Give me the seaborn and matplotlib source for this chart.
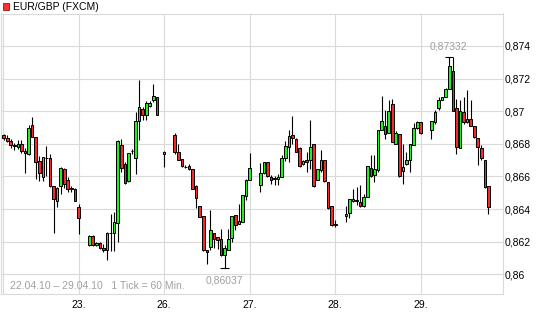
import matplotlib
matplotlib.use("Agg")
import matplotlib.pyplot as plt
from matplotlib.patches import Rectangle
import seaborn as sns
import pandas as pd
import numpy as np

# ---- data (hourly candles, x = hours since 22.04.10 00:00) ----
hours = [3, 4, 5, 6, 7, 8, 9, 10, 11, 12, 13, 14, 15, 16, 17, 18, 19, 20, 21, 22, 23, 24,
         27, 28, 29, 30, 31, 32, 33, 34, 35, 36, 37, 38, 39, 40, 41, 42, 43, 44, 45, 46,
         48,
         51, 52, 53, 54, 55, 56, 57, 58, 59, 60, 61, 62, 63, 64, 65, 66, 67, 68, 69, 70, 71, 72,
         75, 76, 77, 78, 79, 80, 81, 82, 83, 84, 85, 86, 87, 88, 89, 90, 91, 92, 93, 94, 95, 96,
         99, 100, 101, 102, 103, 104, 105, 106, 107, 108, 109, 110, 111, 112, 113, 114, 115, 116,
         117, 118, 119, 120,
         123, 124, 125, 126, 127, 128, 129, 130, 131, 132, 133, 134, 135, 136, 137, 138, 139]

opens = [.86851, .86837, .86818, .86792, .86782, .86798, .86757, .86739, .86915, .86841, .86697,
         .86599, .86712, .86714, .86542, .86452, .86544, .86646, .86579, .86529, .86523, .86410,
         .86182, .86233, .86182, .86192, .86163, .86151, .86251, .86251, .86313, .86794, .86678,
         .86569, .86755, .86714, .86938, .87016, .86979, .87032, .87071, .87087,
         .86739,
         .86851, .86749, .86708, .86657, .86663, .86647, .86539, .86420, .86355, .86151, .86167,
         .86255, .86229, .86216, .86116, .86151, .86224, .86365, .86310, .86320, .86478, .86575,
         .86545, .86622, .86688, .86596, .86590, .86586, .86596, .86714, .86780, .86857, .86827,
         .86773, .86678, .86702, .86698, .86796, .86575, .86637, .86698, .86565, .86421, .86304,
         .86355, .86374, .86452, .86454, .86441, .86421, .86472, .86653, .86610, .86640, .86887,
         .86907, .86868, .87043, .86801, .86862, .86632, .86677, .86698, .86790, .86899, .86934,
         .86887, .86934, .87022, .87071, .87088, .87139, .87246, .87020, .86774, .86996, .86934,
         .86954, .86907, .86837, .86774, .86698, .86544]

highs = [.86862, .86857, .86831, .86806, .86825, .86821, .86773, .86913, .86964, .86843, .86728,
         .86718, .86784, .86739, .86542, .86533, .86657, .86650, .86595, .86543, .86529, .86428,
         .86243, .86243, .86196, .86196, .86186, .86257, .86370, .86380, .86821, .86832, .86688,
         .86745, .86770, .86995, .87190, .87026, .87061, .87061, .87169, .87087,
         .86753,
         .86867, .86800, .86708, .86667, .86678, .86647, .86545, .86420, .86355, .86151, .86396,
         .86255, .86229, .86278, .86177, .86280, .86357, .86365, .86433, .86484, .86586, .86745,
         .86684, .86688, .86688, .86606, .86600, .86616, .86729, .86820, .86886, .86973, .86835,
         .86780, .86698, .86749, .86943, .86800, .86647, .86759, .86698, .86565, .86421, .86332,
         .86417, .86462, .86523, .86534, .86550, .86493, .86661, .86733, .86733, .86887, .87092,
         .87006, .87067, .87074, .86879, .86862, .86801, .86749, .86796, .86930, .86942, .86934,
         .86942, .87006, .87084, .87088, .87143, .87332, .87332, .87074, .87067, .87088, .87129,
         .87067, .86907, .86837, .86790, .86698, .86544]

lows = [.86825, .86814, .86773, .86763, .86767, .86743, .86620, .86732, .86839, .86587, .86570,
        .86570, .86605, .86538, .86253, .86410, .86493, .86532, .86503, .86503, .86447, .86245,
        .86171, .86171, .86171, .86155, .86135, .86088, .86145, .86145, .86196, .86626, .86555,
        .86565, .86739, .86616, .86821, .86944, .86944, .87026, .87057, .86979,
        .86657,
        .86739, .86698, .86657, .86651, .86637, .86520, .86408, .86351, .86141, .86065, .86147,
        .86161, .86157, .86112, .86037, .86147, .86198, .86269, .86306, .86320, .86453, .86575,
        .86504, .86616, .86596, .86555, .86549, .86545, .86596, .86692, .86688, .86800, .86749,
        .86657, .86667, .86627, .86647, .86535, .86575, .86627, .86565, .86402, .86298, .86287,
        .86318, .86345, .86441, .86427, .86415, .86410, .86472, .86595, .86564, .86626, .86883,
        .86831, .86866, .86811, .86801, .86595, .86554, .86671, .86626, .86790, .86893, .86860,
        .86827, .86924, .87006, .87067, .87084, .87139, .87000, .86739, .86774, .86924, .86928,
        .86907, .86837, .86667, .86702, .86530, .86369]

closes = [.86835, .86818, .86794, .86784, .86800, .86755, .86743, .86896, .86843, .86687, .86620,
          .86718, .86716, .86540, .86462, .86527, .86653, .86554, .86523, .86523, .86452, .86345,
          .86233, .86182, .86194, .86161, .86149, .86251, .86253, .86319, .86815, .86653, .86559,
          .86745, .86757, .86938, .87026, .86979, .87052, .87052, .87091, .86979,
          .86751,
          .86749, .86702, .86663, .86655, .86643, .86524, .86469, .86351, .86147, .86137, .86269,
          .86218, .86212, .86120, .86161, .86214, .86357, .86304, .86324, .86484, .86575, .86651,
          .86622, .86688, .86602, .86575, .86584, .86596, .86714, .86786, .86845, .86837, .86749,
          .86663, .86692, .86688, .86780, .86539, .86647, .86698, .86569, .86406, .86304, .86308,
          .86369, .86462, .86460, .86450, .86421, .86476, .86661, .86605, .86645, .86887, .86938,
          .86862, .87002, .86811, .86866, .86605, .86657, .86698, .86796, .86899, .86934, .86866,
          .86942, .86996, .87071, .87084, .87133, .87277, .87000, .86780, .87000, .86934, .86950,
          .86909, .86842, .86780, .86712, .86534, .86410]

day_ticks = [24, 48, 72, 96, 120]
day_labels = ["23.", "26.", "27.", "28.", "29."]
price_ticks = [0.860, 0.862, 0.864, 0.866, 0.868, 0.870, 0.872, 0.874]
price_labels = ["0,86", "0,862", "0,864", "0,866", "0,868", "0,87", "0,872", "0,874"]
title_text = "EUR/GBP (FXCM)"
footer_text = "22.04.10 \u2013 29.04.10   1 Tick = 60 Min."

df = pd.DataFrame({"t": hours, "open": opens, "high": highs, "low": lows, "close": closes})
df["up"] = df["close"] >= df["open"]

# ---- style ----
sns.set_theme(style="white")
plt.rcParams["font.family"] = ["Liberation Sans", "DejaVu Sans"]

W, H = 545, 327
fig = plt.figure(figsize=(W / 100, H / 100), dpi=100)
fig.patch.set_facecolor("white")
left_px, right_px, top_px, bot_px = 1, 503, 13.5, 294
ax = fig.add_axes([left_px / W, 1 - bot_px / H, (right_px - left_px) / W, (bot_px - top_px) / H])
ax.set_facecolor("white")

GREEN = "#22f022"
RED = "#f22a2a"
GRID = "#dadada"

# wicks
ax.vlines(df["t"], df["low"], df["high"], color="black", lw=0.8, zorder=2)
# bodies
body_bottom = np.minimum(df["open"], df["close"])
body_h = np.maximum(np.abs(df["close"] - df["open"]), 0.00002)
ax.bar(df["t"], body_h, bottom=body_bottom, width=0.74,
       color=[GREEN if u else RED for u in df["up"]],
       edgecolor="black", linewidth=0.7, zorder=3)

# extremes
i_hi = int(df["high"].idxmax())
i_lo = int(df["low"].idxmin())
t_hi, v_hi = df.loc[i_hi, "t"], df.loc[i_hi, "high"]
t_lo, v_lo = df.loc[i_lo, "t"], df.loc[i_lo, "low"]
ax.hlines(v_hi, t_hi - 1.2, t_hi + 1.1, color="black", lw=0.8, zorder=3)
ax.hlines(v_lo, t_lo - 1.3, t_lo + 1.3, color="black", lw=0.8, zorder=3)
ax.annotate(f"{v_hi:.5f}".replace(".", ","), (t_hi, v_hi), xytext=(-0.5, 7.5),
            textcoords="offset points", ha="center", va="center",
            fontsize=7.5, color="#a0a0a0")
ax.annotate(f"{v_lo:.5f}".replace(".", ","), (t_lo, v_lo), xytext=(0, -9),
            textcoords="offset points", ha="center", va="center",
            fontsize=7.5, color="#a0a0a0")

# axes limits, grid
ax.set_xlim(2.26, 143.07)
ax.set_ylim(0.85879, 0.87599)
ax.set_xticks(day_ticks)
ax.set_xticklabels(day_labels)
ax.set_yticks(price_ticks)
ax.set_yticklabels(price_labels)
ax.yaxis.tick_right()
ax.grid(True, color=GRID, lw=0.8)
ax.set_axisbelow(True)
ax.tick_params(axis="both", length=0, labelsize=7.5, colors="black")
ax.tick_params(axis="y", pad=1.5)
ax.tick_params(axis="x", pad=4)
for s in ax.spines.values():
    s.set_color(GRID)
    s.set_linewidth(0.8)
    s.set_visible(True)
ax.axvline(2.82, color=GRID, lw=0.8, zorder=1)

# footer inside plot
ax.text(9 / 502, 0.03, footer_text, transform=ax.transAxes, fontsize=7.5,
        color="#a0a0a0", ha="left", va="center")

# title with red square
fig.patches.append(Rectangle((2.7 / W, 1 - 9.5 / H), 6.6 / W, 6.6 / H, transform=fig.transFigure,
                             facecolor="#ff3030", edgecolor="#802020", lw=0.6))
fig.text(13 / W, 1 - 6.5 / H, title_text, fontsize=7.5, color="black", ha="left", va="center")

fig.savefig("out.png", dpi=100, facecolor="white")
